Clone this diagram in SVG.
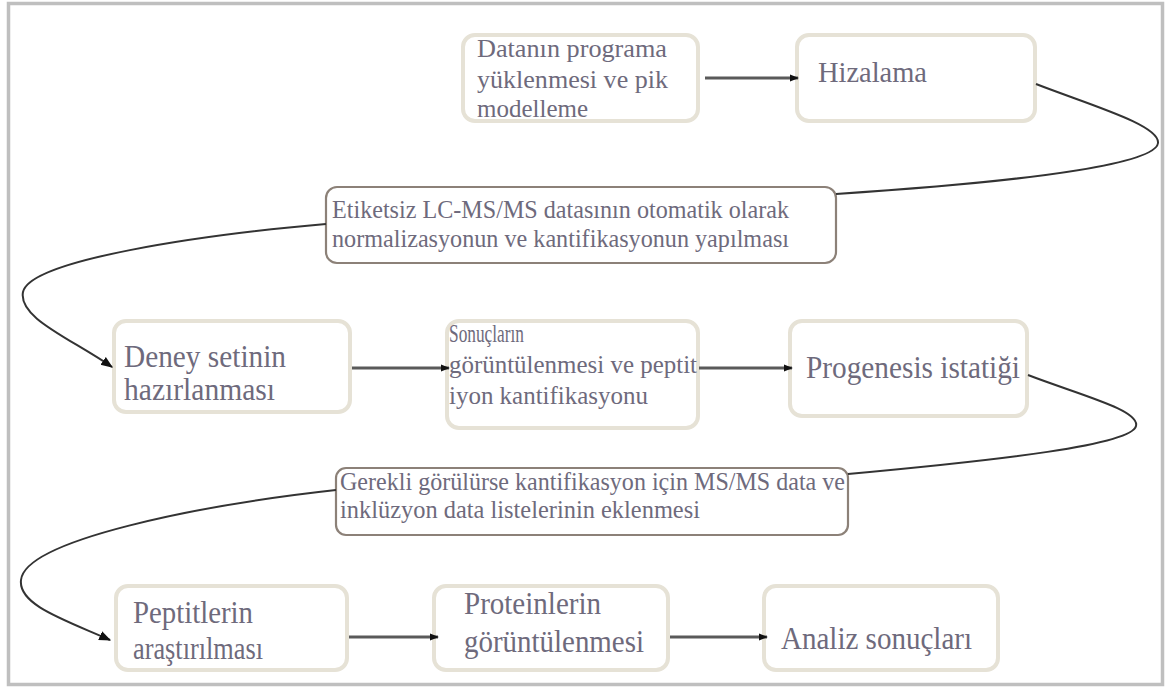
<svg xmlns="http://www.w3.org/2000/svg" width="1171" height="690" viewBox="0 0 1171 690">
<defs>
<style>
.frame{fill:#ffffff;stroke:#bfbfbf;stroke-width:3.5}
.nb{fill:#ffffff;stroke:#e6e2d6;stroke-width:4}
.nd{fill:#ffffff;stroke:#8c8178;stroke-width:2.2}
.t{font-family:'Liberation Serif',serif;fill:#6e6a7c}
.ln{fill:none;stroke:#5a5a5a;stroke-width:3}
.cv{fill:none;stroke:#333333;stroke-width:2}
</style>
<marker id="ah" viewBox="0 0 10 10" refX="9" refY="5" markerWidth="9" markerHeight="9" markerUnits="userSpaceOnUse" orient="auto">
<path d="M0,1 L10,5 L0,9 z" fill="#111111"/>
</marker>
<marker id="ah2" viewBox="0 0 10 10" refX="9" refY="5" markerWidth="12" markerHeight="12" markerUnits="userSpaceOnUse" orient="auto">
<path d="M0,1 L10,5 L0,9 z" fill="#111111"/>
</marker>
</defs>
<rect class="frame" x="8.5" y="3.5" width="1154" height="681"/>
<g id="n1">
<rect class="nb" x="463" y="35" width="235" height="86" rx="12"/>
<text class="t" font-family="Liberation Serif, serif" font-size="26"><tspan x="477" y="57" textLength="190" lengthAdjust="spacingAndGlyphs">Datanın programa</tspan><tspan x="477" y="88" textLength="191" lengthAdjust="spacingAndGlyphs">yüklenmesi ve pik</tspan><tspan x="477" y="117" textLength="111" lengthAdjust="spacingAndGlyphs">modelleme</tspan></text>
</g>
<g id="n2">
<rect class="nb" x="797" y="35" width="238" height="86" rx="12"/>
<text class="t" font-family="Liberation Serif, serif" font-size="29" x="818" y="82" textLength="109" lengthAdjust="spacingAndGlyphs">Hizalama</text>
</g>
<g id="n3">
<rect class="nd" x="326" y="187" width="510" height="76" rx="11"/>
<text class="t" font-family="Liberation Serif, serif" font-size="26"><tspan x="332" y="218" textLength="457" lengthAdjust="spacingAndGlyphs">Etiketsiz LC-MS/MS datasının otomatik olarak</tspan><tspan x="332" y="247" textLength="457" lengthAdjust="spacingAndGlyphs">normalizasyonun ve kantifikasyonun yapılması</tspan></text>
</g>
<g id="n4">
<rect class="nb" x="114" y="321" width="236" height="91" rx="12"/>
<text class="t" font-family="Liberation Serif, serif" font-size="32"><tspan x="124" y="367" textLength="162" lengthAdjust="spacingAndGlyphs">Deney setinin</tspan><tspan x="124" y="400" textLength="151" lengthAdjust="spacingAndGlyphs">hazırlanması</tspan></text>
</g>
<g id="n5">
<rect class="nb" x="447" y="321" width="251" height="107" rx="12"/>
<text class="t" font-family="Liberation Serif, serif" font-size="25"><tspan x="449" y="342" textLength="75" lengthAdjust="spacingAndGlyphs">Sonuçların</tspan><tspan x="449" y="373" textLength="248" lengthAdjust="spacingAndGlyphs">görüntülenmesi ve peptit</tspan><tspan x="449" y="404" textLength="199" lengthAdjust="spacingAndGlyphs">iyon kantifikasyonu</tspan></text>
</g>
<g id="n6">
<rect class="nb" x="790" y="321" width="237" height="95" rx="12"/>
<text class="t" font-family="Liberation Serif, serif" font-size="31" x="806" y="378" textLength="214" lengthAdjust="spacingAndGlyphs">Progenesis istatiği</text>
</g>
<g id="n7">
<rect class="nd" x="336" y="468" width="512" height="67" rx="10"/>
<text class="t" font-family="Liberation Serif, serif" font-size="26"><tspan x="340" y="490" textLength="505" lengthAdjust="spacingAndGlyphs">Gerekli görülürse kantifikasyon için MS/MS data ve</tspan><tspan x="340" y="518" textLength="360" lengthAdjust="spacingAndGlyphs">inklüzyon data listelerinin eklenmesi</tspan></text>
</g>
<g id="n8">
<rect class="nb" x="116" y="586" width="231" height="84" rx="12"/>
<text class="t" font-family="Liberation Serif, serif" font-size="32"><tspan x="133" y="623" textLength="120" lengthAdjust="spacingAndGlyphs">Peptitlerin</tspan><tspan x="133" y="659" textLength="130" lengthAdjust="spacingAndGlyphs">araştırılması</tspan></text>
</g>
<g id="n9">
<rect class="nb" x="434" y="586" width="234" height="84" rx="12"/>
<text class="t" font-family="Liberation Serif, serif" font-size="32"><tspan x="464" y="614" textLength="137" lengthAdjust="spacingAndGlyphs">Proteinlerin</tspan><tspan x="464" y="652" textLength="180" lengthAdjust="spacingAndGlyphs">görüntülenmesi</tspan></text>
</g>
<g id="n10">
<rect class="nb" x="764" y="586" width="234" height="84" rx="12"/>
<text class="t" font-family="Liberation Serif, serif" font-size="32" x="781" y="649" textLength="191" lengthAdjust="spacingAndGlyphs">Analiz sonuçları</text>
</g>
<g id="connectors">
<path class="ln" d="M705,78 L798,78" marker-end="url(#ah)"/>
<path class="cv" d="M1036,84 C1090,105 1160,125 1158,143 C1156,162 1050,180 836,194"/>
<path class="cv" d="M326,224 C200,235 30,260 23,292 C18,318 70,338 112,367" marker-end="url(#ah2)"/>
<path class="ln" d="M352,368 L449,368" marker-end="url(#ah)"/>
<path class="ln" d="M699,368 L792,368" marker-end="url(#ah)"/>
<path class="cv" d="M1028,375 C1080,395 1140,410 1136,426 C1132,445 1000,460 848,474"/>
<path class="cv" d="M336,490 C200,505 25,540 21,580 C18,605 65,620 110,640" marker-end="url(#ah2)"/>
<path class="ln" d="M349,637 L438,637" marker-end="url(#ah)"/>
<path class="ln" d="M670,637 L767,637" marker-end="url(#ah)"/>
</g>
</svg>
